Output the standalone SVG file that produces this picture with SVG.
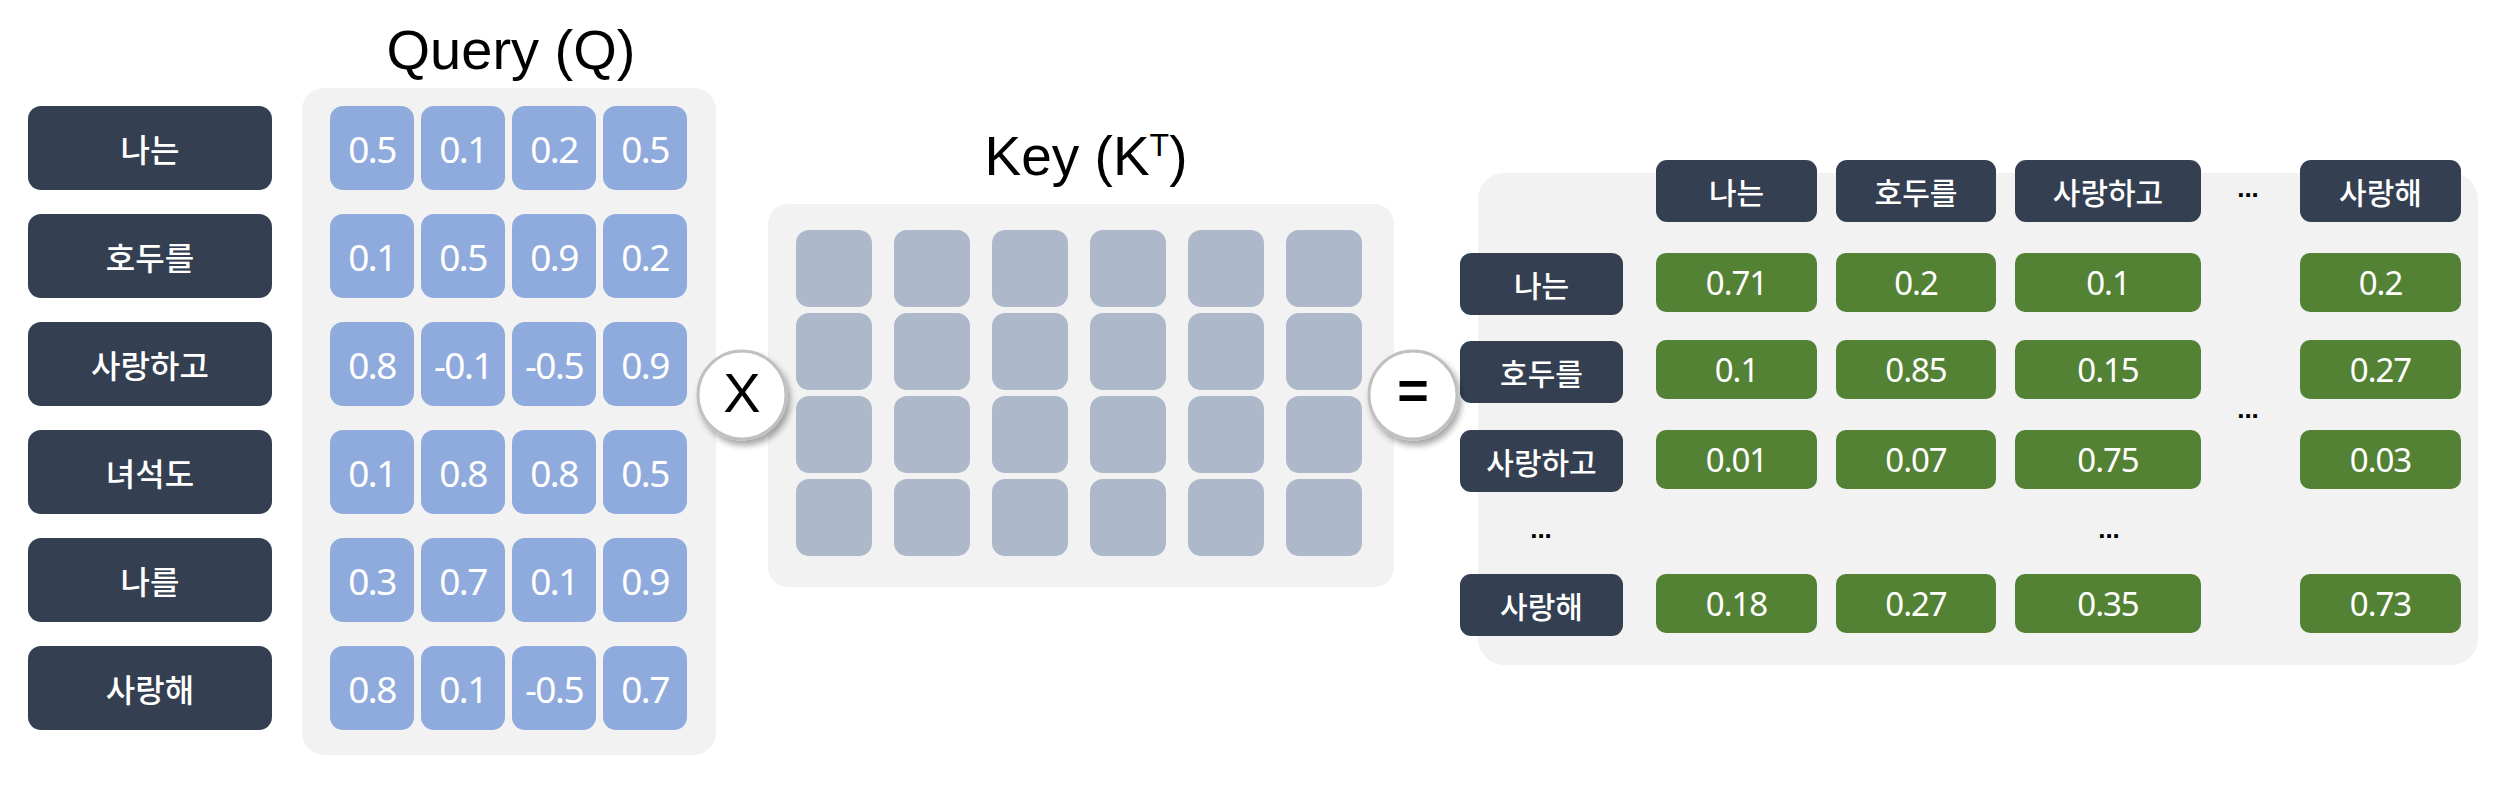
<svg xmlns="http://www.w3.org/2000/svg" width="2500" height="790" viewBox="0 0 2500 790">
  <defs>
    <filter id="sh" x="-30%" y="-30%" width="170%" height="170%">
      <feDropShadow dx="3" dy="5" stdDeviation="3" flood-color="#000" flood-opacity="0.35"/>
    </filter>
    <style>
      .panel { fill: #F2F2F2; }
      .lbl { fill: #344051; }
      .q { fill: #8FAADC; }
      .k { fill: #ADB9CA; }
      .g { fill: #548235; }
      .op { fill: #FFFFFF; stroke: #C0C0C0; stroke-width: 3; filter: url(#sh); }
      .kt { font-family: "Noto Sans CJK KR", "Noto Sans", sans-serif; font-weight: 500; fill: #FFFFFF; text-anchor: middle; dominant-baseline: central; }
      .kt1 { font-size: 32px; }
      .kt2 { font-size: 30px; }
      .num { font-family: "Noto Sans", "Liberation Sans", sans-serif; fill: #FFFFFF; text-anchor: middle; dominant-baseline: central; }
      .n1 { font-size: 37px; letter-spacing: -1.5px; }
      .n2 { font-size: 33px; letter-spacing: -1px; }
      .title { font-family: "Liberation Sans", Arial, sans-serif; fill: #000000; text-anchor: middle; }
      .dots { font-family: "Liberation Sans", Arial, sans-serif; font-weight: bold; font-size: 26px; fill: #000000; text-anchor: middle; }
      .opt { font-family: "Liberation Sans", Arial, sans-serif; fill: #000000; text-anchor: middle; dominant-baseline: central; }
    </style>
  </defs>

  <!-- Titles -->
  <text class="title" x="511" y="69" font-size="56">Query (Q)</text>
  <text class="title" x="1086" y="175" font-size="55">Key (K<tspan font-size="32" dy="-19">T</tspan><tspan dy="19">)</tspan></text>

  <!-- Left token labels -->
  <g id="tokens-left">
    <g id="tok-l1"><rect class="lbl" x="28" y="106" width="244" height="84" rx="13"/><text class="kt kt1" x="150" y="148">나는</text></g>
    <g id="tok-l2"><rect class="lbl" x="28" y="214" width="244" height="84" rx="13"/><text class="kt kt1" x="150" y="256">호두를</text></g>
    <g id="tok-l3"><rect class="lbl" x="28" y="322" width="244" height="84" rx="13"/><text class="kt kt1" x="150" y="364">사랑하고</text></g>
    <g id="tok-l4"><rect class="lbl" x="28" y="430" width="244" height="84" rx="13"/><text class="kt kt1" x="150" y="472">녀석도</text></g>
    <g id="tok-l5"><rect class="lbl" x="28" y="538" width="244" height="84" rx="13"/><text class="kt kt1" x="150" y="580">나를</text></g>
    <g id="tok-l6"><rect class="lbl" x="28" y="646" width="244" height="84" rx="13"/><text class="kt kt1" x="150" y="688">사랑해</text></g>
  </g>

  <!-- Query matrix -->
  <g id="query">
    <rect class="panel" x="302" y="88" width="414" height="667" rx="22"/>
    <g id="q-r1">
      <rect class="q" x="330" y="106" width="84" height="84" rx="13"/><text class="num n1" x="372" y="148">0.5</text>
      <rect class="q" x="421" y="106" width="84" height="84" rx="13"/><text class="num n1" x="463" y="148">0.1</text>
      <rect class="q" x="512" y="106" width="84" height="84" rx="13"/><text class="num n1" x="554" y="148">0.2</text>
      <rect class="q" x="603" y="106" width="84" height="84" rx="13"/><text class="num n1" x="645" y="148">0.5</text>
    </g>
    <g id="q-r2">
      <rect class="q" x="330" y="214" width="84" height="84" rx="13"/><text class="num n1" x="372" y="256">0.1</text>
      <rect class="q" x="421" y="214" width="84" height="84" rx="13"/><text class="num n1" x="463" y="256">0.5</text>
      <rect class="q" x="512" y="214" width="84" height="84" rx="13"/><text class="num n1" x="554" y="256">0.9</text>
      <rect class="q" x="603" y="214" width="84" height="84" rx="13"/><text class="num n1" x="645" y="256">0.2</text>
    </g>
    <g id="q-r3">
      <rect class="q" x="330" y="322" width="84" height="84" rx="13"/><text class="num n1" x="372" y="364">0.8</text>
      <rect class="q" x="421" y="322" width="84" height="84" rx="13"/><text class="num n1" x="463" y="364">-0.1</text>
      <rect class="q" x="512" y="322" width="84" height="84" rx="13"/><text class="num n1" x="554" y="364">-0.5</text>
      <rect class="q" x="603" y="322" width="84" height="84" rx="13"/><text class="num n1" x="645" y="364">0.9</text>
    </g>
    <g id="q-r4">
      <rect class="q" x="330" y="430" width="84" height="84" rx="13"/><text class="num n1" x="372" y="472">0.1</text>
      <rect class="q" x="421" y="430" width="84" height="84" rx="13"/><text class="num n1" x="463" y="472">0.8</text>
      <rect class="q" x="512" y="430" width="84" height="84" rx="13"/><text class="num n1" x="554" y="472">0.8</text>
      <rect class="q" x="603" y="430" width="84" height="84" rx="13"/><text class="num n1" x="645" y="472">0.5</text>
    </g>
    <g id="q-r5">
      <rect class="q" x="330" y="538" width="84" height="84" rx="13"/><text class="num n1" x="372" y="580">0.3</text>
      <rect class="q" x="421" y="538" width="84" height="84" rx="13"/><text class="num n1" x="463" y="580">0.7</text>
      <rect class="q" x="512" y="538" width="84" height="84" rx="13"/><text class="num n1" x="554" y="580">0.1</text>
      <rect class="q" x="603" y="538" width="84" height="84" rx="13"/><text class="num n1" x="645" y="580">0.9</text>
    </g>
    <g id="q-r6">
      <rect class="q" x="330" y="646" width="84" height="84" rx="13"/><text class="num n1" x="372" y="688">0.8</text>
      <rect class="q" x="421" y="646" width="84" height="84" rx="13"/><text class="num n1" x="463" y="688">0.1</text>
      <rect class="q" x="512" y="646" width="84" height="84" rx="13"/><text class="num n1" x="554" y="688">-0.5</text>
      <rect class="q" x="603" y="646" width="84" height="84" rx="13"/><text class="num n1" x="645" y="688">0.7</text>
    </g>
  </g>

  <!-- Key matrix -->
  <g id="key">
    <rect class="panel" x="768" y="204" width="626" height="383" rx="20"/>
    <g id="k-cells">
      <rect class="k" x="796" y="230" width="76" height="77" rx="13"/>
      <rect class="k" x="894" y="230" width="76" height="77" rx="13"/>
      <rect class="k" x="992" y="230" width="76" height="77" rx="13"/>
      <rect class="k" x="1090" y="230" width="76" height="77" rx="13"/>
      <rect class="k" x="1188" y="230" width="76" height="77" rx="13"/>
      <rect class="k" x="1286" y="230" width="76" height="77" rx="13"/>
      <rect class="k" x="796" y="313" width="76" height="77" rx="13"/>
      <rect class="k" x="894" y="313" width="76" height="77" rx="13"/>
      <rect class="k" x="992" y="313" width="76" height="77" rx="13"/>
      <rect class="k" x="1090" y="313" width="76" height="77" rx="13"/>
      <rect class="k" x="1188" y="313" width="76" height="77" rx="13"/>
      <rect class="k" x="1286" y="313" width="76" height="77" rx="13"/>
      <rect class="k" x="796" y="396" width="76" height="77" rx="13"/>
      <rect class="k" x="894" y="396" width="76" height="77" rx="13"/>
      <rect class="k" x="992" y="396" width="76" height="77" rx="13"/>
      <rect class="k" x="1090" y="396" width="76" height="77" rx="13"/>
      <rect class="k" x="1188" y="396" width="76" height="77" rx="13"/>
      <rect class="k" x="1286" y="396" width="76" height="77" rx="13"/>
      <rect class="k" x="796" y="479" width="76" height="77" rx="13"/>
      <rect class="k" x="894" y="479" width="76" height="77" rx="13"/>
      <rect class="k" x="992" y="479" width="76" height="77" rx="13"/>
      <rect class="k" x="1090" y="479" width="76" height="77" rx="13"/>
      <rect class="k" x="1188" y="479" width="76" height="77" rx="13"/>
      <rect class="k" x="1286" y="479" width="76" height="77" rx="13"/>
    </g>
  </g>

  <!-- Result matrix -->
  <g id="result">
    <rect class="panel" x="1478" y="173" width="1000" height="492" rx="26"/>
    <g id="r-head">
      <rect class="lbl" x="1656" y="160" width="161" height="62" rx="11"/><text class="kt kt2" x="1736.5" y="191">나는</text>
      <rect class="lbl" x="1836" y="160" width="160" height="62" rx="11"/><text class="kt kt2" x="1916" y="191">호두를</text>
      <rect class="lbl" x="2015" y="160" width="186" height="62" rx="11"/><text class="kt kt2" x="2108" y="191">사랑하고</text>
      <text class="dots" x="2248" y="197">...</text>
      <rect class="lbl" x="2300" y="160" width="161" height="62" rx="11"/><text class="kt kt2" x="2380.5" y="191">사랑해</text>
    </g>
    <g id="r-row1">
      <rect class="lbl" x="1460" y="253" width="163" height="62" rx="11"/><text class="kt kt2" x="1541.5" y="284">나는</text>
      <rect class="g" x="1656" y="253" width="161" height="59" rx="10"/><text class="num n2" x="1736.5" y="282">0.71</text>
      <rect class="g" x="1836" y="253" width="160" height="59" rx="10"/><text class="num n2" x="1916" y="282">0.2</text>
      <rect class="g" x="2015" y="253" width="186" height="59" rx="10"/><text class="num n2" x="2108" y="282">0.1</text>
      <rect class="g" x="2300" y="253" width="161" height="59" rx="10"/><text class="num n2" x="2380.5" y="282">0.2</text>
    </g>
    <g id="r-row2">
      <rect class="lbl" x="1460" y="341" width="163" height="62" rx="11"/><text class="kt kt2" x="1541.5" y="372">호두를</text>
      <rect class="g" x="1656" y="340" width="161" height="59" rx="10"/><text class="num n2" x="1736.5" y="369">0.1</text>
      <rect class="g" x="1836" y="340" width="160" height="59" rx="10"/><text class="num n2" x="1916" y="369">0.85</text>
      <rect class="g" x="2015" y="340" width="186" height="59" rx="10"/><text class="num n2" x="2108" y="369">0.15</text>
      <rect class="g" x="2300" y="340" width="161" height="59" rx="10"/><text class="num n2" x="2380.5" y="369">0.27</text>
    </g>
    <text class="dots" x="2248" y="418">...</text>
    <g id="r-row3">
      <rect class="lbl" x="1460" y="430" width="163" height="62" rx="11"/><text class="kt kt2" x="1541.5" y="461">사랑하고</text>
      <rect class="g" x="1656" y="430" width="161" height="59" rx="10"/><text class="num n2" x="1736.5" y="459">0.01</text>
      <rect class="g" x="1836" y="430" width="160" height="59" rx="10"/><text class="num n2" x="1916" y="459">0.07</text>
      <rect class="g" x="2015" y="430" width="186" height="59" rx="10"/><text class="num n2" x="2108" y="459">0.75</text>
      <rect class="g" x="2300" y="430" width="161" height="59" rx="10"/><text class="num n2" x="2380.5" y="459">0.03</text>
    </g>
    <text class="dots" x="1541" y="538">...</text>
    <text class="dots" x="2109" y="538">...</text>
    <g id="r-row5">
      <rect class="lbl" x="1460" y="574" width="163" height="62" rx="11"/><text class="kt kt2" x="1541.5" y="605">사랑해</text>
      <rect class="g" x="1656" y="574" width="161" height="59" rx="10"/><text class="num n2" x="1736.5" y="603">0.18</text>
      <rect class="g" x="1836" y="574" width="160" height="59" rx="10"/><text class="num n2" x="1916" y="603">0.27</text>
      <rect class="g" x="2015" y="574" width="186" height="59" rx="10"/><text class="num n2" x="2108" y="603">0.35</text>
      <rect class="g" x="2300" y="574" width="161" height="59" rx="10"/><text class="num n2" x="2380.5" y="603">0.73</text>
    </g>
  </g>

  <!-- Operators -->
  <g id="op-times">
    <circle class="op" cx="742" cy="395" r="44"/>
    <text class="opt" x="742" y="392" font-size="56">X</text>
  </g>
  <g id="op-equals">
    <circle class="op" cx="1413" cy="395" r="44"/>
    <text class="opt" x="1413" y="390" font-size="54" font-weight="bold">=</text>
  </g>
</svg>
